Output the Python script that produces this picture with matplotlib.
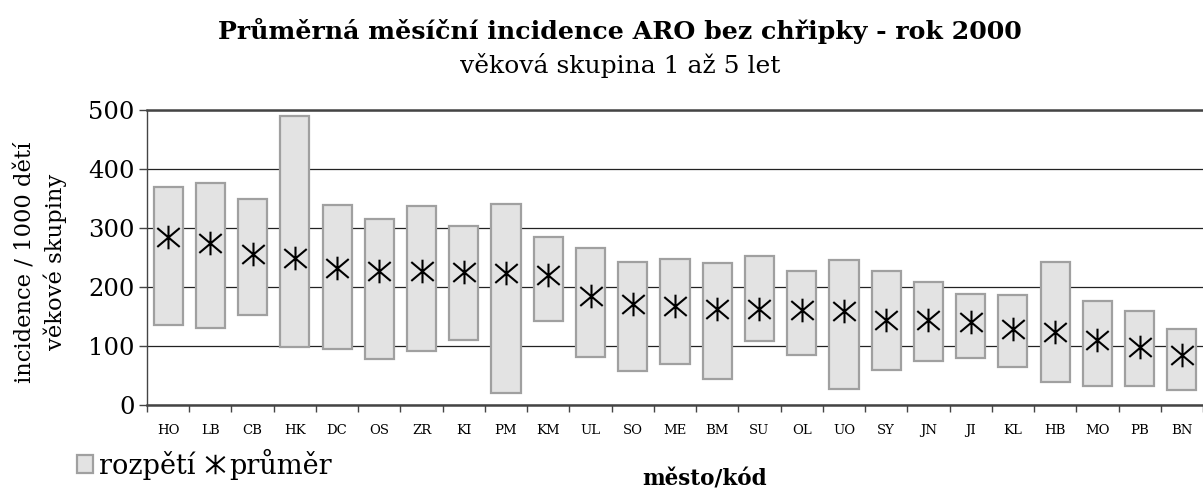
import matplotlib.pyplot as plt
from matplotlib.path import Path
from matplotlib.patches import Patch
from matplotlib.lines import Line2D
import numpy as np

codes = ["HO", "LB", "CB", "HK", "DC", "OS", "ZR", "KI", "PM", "KM", "UL", "SO", "ME",
         "BM", "SU", "OL", "UO", "SY", "JN", "JI", "KL", "HB", "MO", "PB", "BN"]
maxima = [370, 376, 350, 490, 339, 315, 337, 303, 340, 285, 266, 242, 247,
          241, 253, 227, 246, 227, 209, 188, 186, 242, 176, 159, 128]
minima = [135, 130, 152, 98, 95, 78, 92, 111, 20, 142, 82, 58, 69,
          44, 108, 84, 27, 60, 75, 79, 64, 39, 33, 33, 25]
means = [285, 275, 256, 249, 233, 227, 227, 226, 224, 221, 185, 172, 167,
         163, 163, 161, 159, 144, 144, 140, 129, 123, 111, 99, 85]

plt.rcParams['font.family'] = ["DejaVu Serif"]

# asterisk marker: X with a vertical bar
star = Path([(0, -1), (0, 1), (-0.95, -0.8), (0.95, 0.8), (-0.95, 0.8), (0.95, -0.8)],
            [Path.MOVETO, Path.LINETO, Path.MOVETO, Path.LINETO, Path.MOVETO, Path.LINETO])

fig = plt.figure(figsize=(12.03, 4.92), dpi=100)
ax = fig.add_axes([147 / 1203, 1 - 405 / 492, 1 - 147 / 1203, 295 / 492])

x = np.arange(len(codes))
heights = np.array(maxima) - np.array(minima)
ax.bar(x, heights, bottom=minima, width=0.69, color="#e3e3e3",
       edgecolor="#a0a0a0", linewidth=1.6, zorder=2)
ax.plot(x, means, linestyle="none", marker=star, markersize=17,
        markeredgewidth=1.5, color="black", zorder=3)

ax.set_ylim(0, 500)
ax.set_xlim(-0.5, 24.38)
ax.set_yticks([0, 100, 200, 300, 400, 500])
ax.yaxis.grid(True, color="#222222", linewidth=0.9)
ax.set_axisbelow(True)
ax.tick_params(axis="y", labelsize=17.5, length=6, width=1, color="#444444", pad=3)

ax.set_xticks(x)
ax.set_xticklabels(codes, fontsize=9.5)
ax.set_xticks(np.arange(-0.5, 25, 1), minor=True)
ax.tick_params(axis="x", which="major", length=0, pad=14)
ax.tick_params(axis="x", which="minor", length=5, width=1, color="#444444")

ax.spines["right"].set_visible(False)
ax.spines["top"].set_color("#444444")
ax.spines["top"].set_linewidth(1.8)
ax.spines["bottom"].set_color("#444444")
ax.spines["bottom"].set_linewidth(1.8)
ax.spines["left"].set_color("#444444")
ax.spines["left"].set_linewidth(1)

fig.text(41 / 1203, 1 - 262 / 492, "incidence / 1000 dětí\nvěkové skupiny",
         rotation=90, ha="center", va="center", fontsize=16.3, linespacing=1.4)

fig.text(620 / 1203, 1 - 31 / 492, "Průměrná měsíční incidence ARO bez chřipky - rok 2000",
         ha="center", va="center", fontsize=18.2, fontweight="bold")
fig.text(620 / 1203, 1 - 66 / 492, "věková skupina 1 až 5 let",
         ha="center", va="center", fontsize=18)
fig.text(705 / 1203, 1 - 479 / 492, "město/kód",
         ha="center", va="center", fontsize=15.5, fontweight="bold")

handles = [Patch(facecolor="#e3e3e3", edgecolor="#a0a0a0", linewidth=1.6),
           Line2D([], [], linestyle="none", marker=star, markersize=14,
                  markeredgewidth=1.4, color="black")]
fig.legend(handles, ["rozpětí", "průměr"], loc="center left",
           bbox_to_anchor=(77 / 1203, 1 - 464 / 492), ncol=2, frameon=False,
           prop={"family": "DejaVu Serif", "size": 19.5},
           handlelength=0.6, handleheight=0.6, handletextpad=0.2,
           columnspacing=0.45, borderpad=0, borderaxespad=0)

fig.savefig("out.png", dpi=100)
